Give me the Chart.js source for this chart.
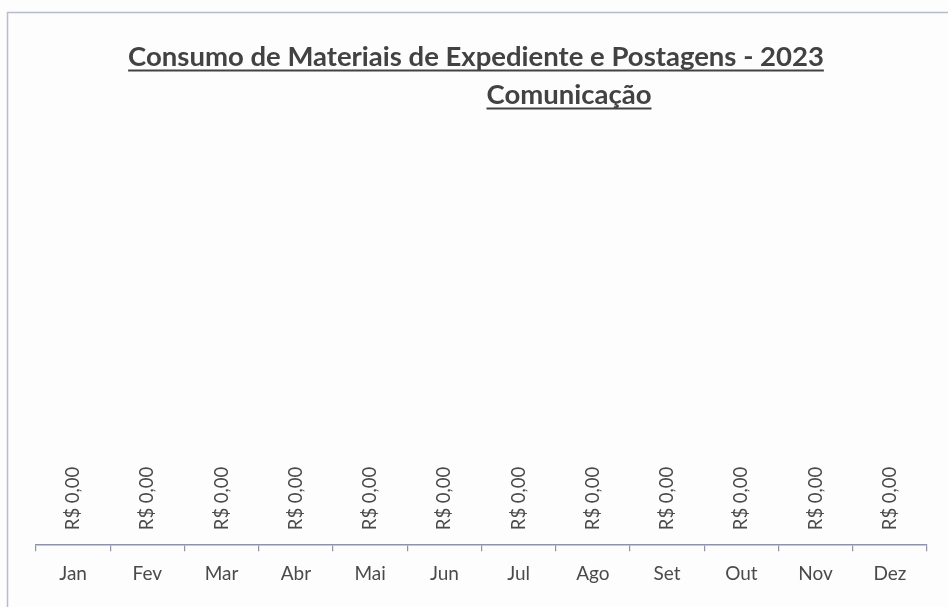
<!DOCTYPE html>
<html lang="pt-BR">
<head>
<meta charset="UTF-8" />
<title>Consumo de Materiais de Expediente e Postagens - 2023</title>
<script src="https://cdn.jsdelivr.net/npm/chart.js"></script>
<style>
  html, body { margin: 0; padding: 0; background: #fff; }
  #wrap { width: 948px; height: 607px; }
</style>
</head>
<body>
<div id="wrap"><canvas id="chart"></canvas></div>
<script>
  const months = ['Jan', 'Fev', 'Mar', 'Abr', 'Mai', 'Jun', 'Jul', 'Ago', 'Set', 'Out', 'Nov', 'Dez'];
  const valores = [0, 0, 0, 0, 0, 0, 0, 0, 0, 0, 0, 0];
  const titulo = 'Consumo de Materiais de Expediente e Postagens - 2023';
  const subtitulo = 'Comunicação';

  const FONT = 'Lato, "Open Sans", sans-serif';

  function moeda(v) {
    return 'R$ ' + v.toFixed(2).replace('.', ',');
  }

  // moldura + títulos sublinhados
  const moldura = {
    id: 'moldura',
    beforeDraw(chart) {
      const ctx = chart.ctx;
      ctx.save();
      ctx.fillStyle = '#fdfdfd';
      ctx.fillRect(0, 0, chart.width, chart.height);
      ctx.strokeStyle = '#b9bccb';
      ctx.lineWidth = 1.5;
      ctx.strokeRect(7.5, 12.5, chart.width + 10, chart.height + 10);
      ctx.restore();
    },
    afterDraw(chart) {
      const ctx = chart.ctx;
      ctx.save();
      ctx.fillStyle = '#424242';
      ctx.strokeStyle = '#424242';
      ctx.textBaseline = 'alphabetic';
      ctx.font = 'bold 27.5px ' + FONT;
      ctx.textAlign = 'center';
      const linhas = [[titulo, 476, 66], [subtitulo, 569, 104]];
      linhas.forEach(([t, x, y]) => {
        ctx.fillText(t, x, y);
        const w = ctx.measureText(t).width;
        ctx.lineWidth = 1.8;
        ctx.beginPath();
        ctx.moveTo(x - w / 2, y + 4.5);
        ctx.lineTo(x + w / 2, y + 4.5);
        ctx.stroke();
      });
      ctx.restore();
    }
  };

  // rótulos de dados verticais
  const rotulos = {
    id: 'rotulos',
    afterDatasetsDraw(chart) {
      const ctx = chart.ctx;
      const meta = chart.getDatasetMeta(0);
      ctx.save();
      ctx.font = '18.5px ' + FONT;
      ctx.fillStyle = '#4a4a4a';
      ctx.textAlign = 'left';
      ctx.textBaseline = 'middle';
      meta.data.forEach((bar, i) => {
        ctx.save();
        ctx.translate(bar.x, bar.y - 15);
        ctx.rotate(-Math.PI / 2);
        ctx.fillText(moeda(valores[i]), 0, 0);
        ctx.restore();
      });
      ctx.restore();
    }
  };

  new Chart(document.getElementById('chart'), {
    type: 'bar',
    data: {
      labels: months,
      datasets: [{
        data: valores,
        backgroundColor: '#4472c4'
      }]
    },
    options: {
      responsive: true,
      maintainAspectRatio: false,
      animation: false,
      layout: { padding: { left: 36, right: 21, top: 130, bottom: 11 } },
      plugins: {
        legend: { display: false },
        tooltip: { enabled: false }
      },
      scales: {
        x: {
          offset: true,
          grid: {
            offset: true,
            drawOnChartArea: false,
            drawTicks: true,
            tickLength: 6,
            color: '#8e93aa',
            lineWidth: 1.2
          },
          border: { color: '#8e93aa', width: 1.5 },
          ticks: {
            color: '#4a4a4a',
            font: { family: FONT, size: 19 },
            padding: 11
          }
        },
        y: {
          display: false,
          min: 0,
          max: 10
        }
      }
    },
    plugins: [moldura, rotulos]
  });
</script>
</body>
</html>
